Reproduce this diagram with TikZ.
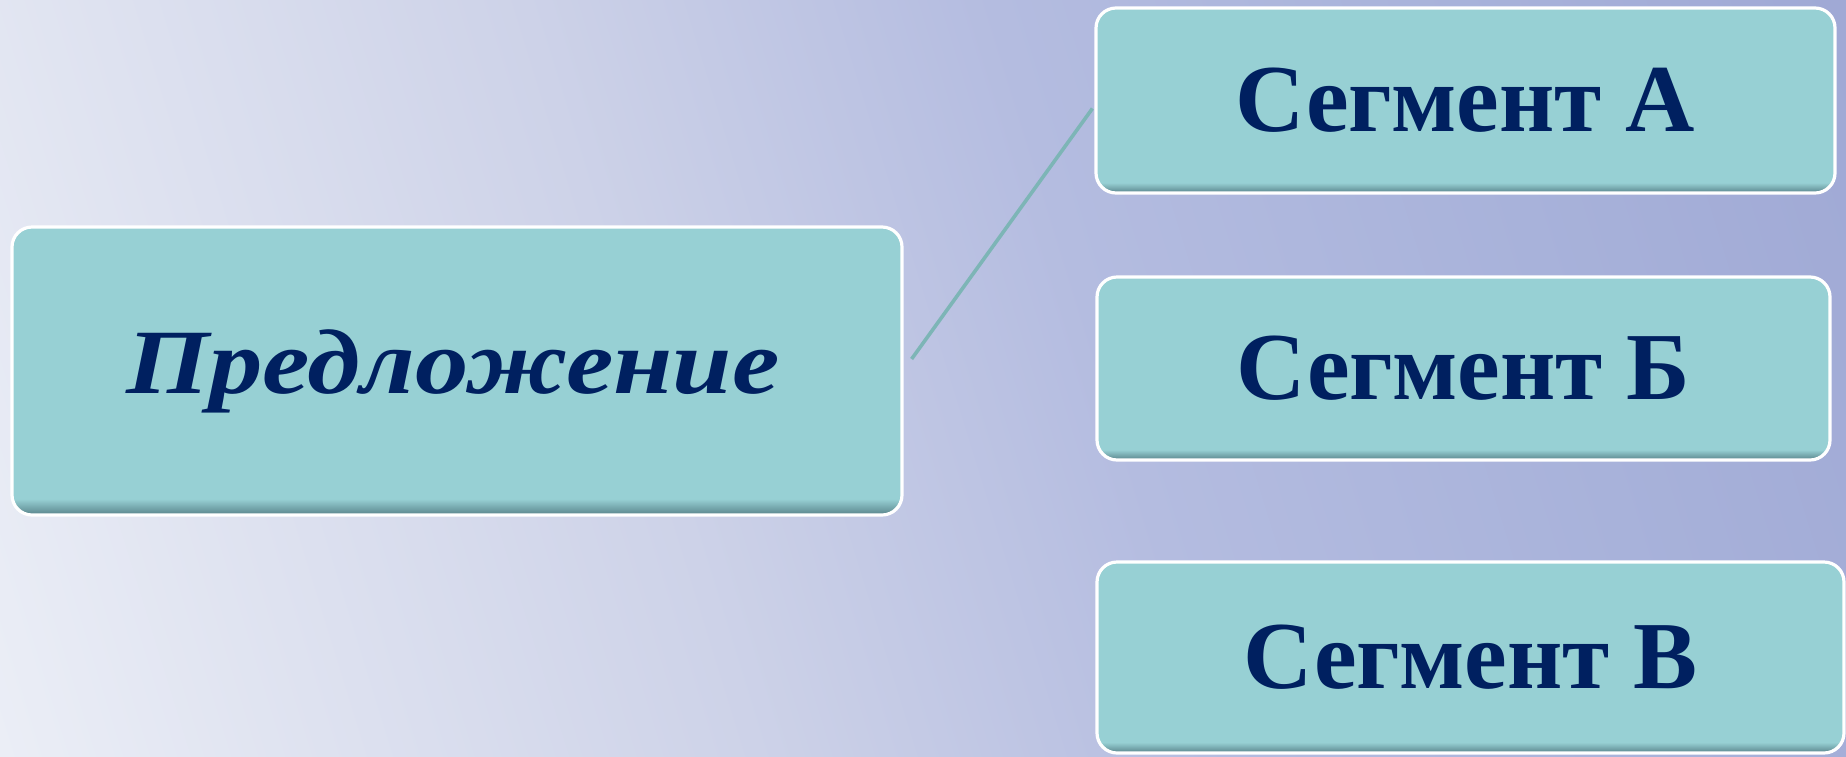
\documentclass[tikz,border=0pt]{standalone}
\usepackage{fontspec}
\setmainfont{Liberation Serif}
\usetikzlibrary{calc}
\definecolor{bgA}{HTML}{EBEEF6}
\definecolor{bgB}{HTML}{CDD2E8}
\definecolor{bgC}{HTML}{B4BCE0}
\definecolor{bgD}{HTML}{A8B2DA}
\definecolor{bgE}{HTML}{A0A9D5}
\definecolor{boxfill}{HTML}{97D0D4}
\definecolor{boxdark}{HTML}{58838A}
\definecolor{txtnavy}{HTML}{002060}
\definecolor{connc}{HTML}{7DB5B6}
\pgfdeclarehorizontalshading{bgshade}{100bp}{color(0bp)=(bgA); color(18.7bp)=(bgA); color(41.5bp)=(bgB); color(55.6bp)=(bgC); color(69.6bp)=(bgD); color(81bp)=(bgE); color(100bp)=(bgE)}
\pgfdeclareverticalshading{boxshade}{100bp}{color(0bp)=(boxdark); color(25bp)=(boxdark); color(27.8bp)=(boxfill); color(100bp)=(boxfill)}
\tikzset{
  segbox/.style={draw=white, line width=1.6pt, rounded corners=10pt, shading=boxshade,
    text=txtnavy, font=\fontsize{48}{50}\selectfont\bfseries, inner sep=0pt},
  propbox/.style={segbox, font=\fontsize{46}{50}\selectfont\bfseries\itshape},
  conn/.style={draw=connc, line width=1.8pt}
}
\begin{document}
\begin{tikzpicture}[x=0.5pt,y=-0.5pt]
\useasboundingbox (0,0) rectangle (1846,756);
\shade[shading=bgshade, shading angle=17.2] (0,0) rectangle (1846,756);
\node[propbox, minimum width=445pt, minimum height=144pt] (P) at (457,371) {\hspace*{-4pt}\scalebox{1.16}[1]{Предложение}};
\node[segbox, minimum width=369.5pt, minimum height=92.5pt] (A) at (1465.5,100.5) {Сегмент А};
\node[segbox, minimum width=366.5pt, minimum height=91.5pt] (B) at (1463.5,368.5) {Сегмент Б};
\node[segbox, minimum width=373.5pt, minimum height=95.5pt] (V) at (1470.5,657.5) {Сегмент В};
\draw[conn] ([xshift=4pt,yshift=6pt]P.east) -- ([xshift=-1pt,yshift=-4pt]A.west);
\end{tikzpicture}
\end{document}
